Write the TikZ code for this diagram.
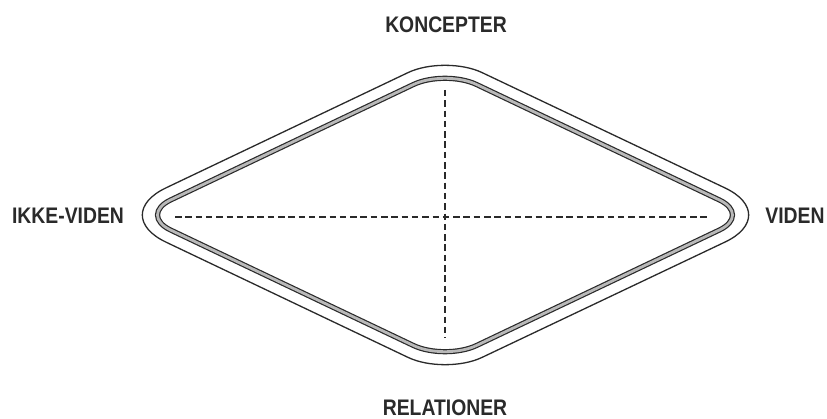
\documentclass[tikz,border=0pt]{standalone}
\usepackage{fontspec}
\newfontfamily\labfont[FakeStretch=0.86]{Liberation Sans}
\usetikzlibrary{calc}
\definecolor{ink}{HTML}{2A2A2A}
\tikzset{
  lab/.style={font=\labfont\bfseries\fontsize{22.5}{24}\selectfont, text=ink, inner sep=0pt, anchor=center},
  outerline/.style={draw=ink, line width=1.3pt},
  innerline/.style={draw=ink, line width=1.2pt, double=gray!55, double distance=2.8pt},
  axis/.style={draw=ink, line width=1.8pt, dash pattern=on 6.5pt off 3.8pt}
}
\begin{document}
\begin{tikzpicture}[x=1pt,y=-1pt]
\useasboundingbox[fill=white] (0,0) rectangle (827,419);
% outer diamond corners
\coordinate (oL) at (109,215);
\coordinate (oR) at (782,215);
\coordinate (oT) at (445,55);
\coordinate (oB) at (445,375);
% inner diamond corners
\coordinate (iL) at (139,215);
\coordinate (iR) at (751,215);
\coordinate (iT) at (445,69.5);
\coordinate (iB) at (445,360.5);
\coordinate (om) at ($(oL)!0.5!(oT)$);
\coordinate (im) at ($(iL)!0.5!(iT)$);
\draw[outerline] (om) [rounded corners=41pt] -- (oT) [rounded corners=63pt] -- (oR) [rounded corners=41pt] -- (oB) [rounded corners=63pt] -- (oL) -- cycle;
\draw[innerline, rounded corners=35pt] (im) -- (iT) -- (iR) -- (iB) -- (iL) -- cycle;
% axes
\coordinate (hA) at (175,217);
\coordinate (hB) at (708,217);
\coordinate (vA) at (445,90);
\coordinate (vB) at (445,338);
\draw[axis] (hA) -- (hB);
\draw[axis] (vA) -- (vB);
% labels
\node[lab] (k) at (446,25) {KONCEPTER};
\node[lab] (r) at (445,408) {RELATIONER};
\node[lab] (ik) at (68,216) {IKKE-VIDEN};
\node[lab] (v) at (795,216) {VIDEN};
\end{tikzpicture}
\end{document}
